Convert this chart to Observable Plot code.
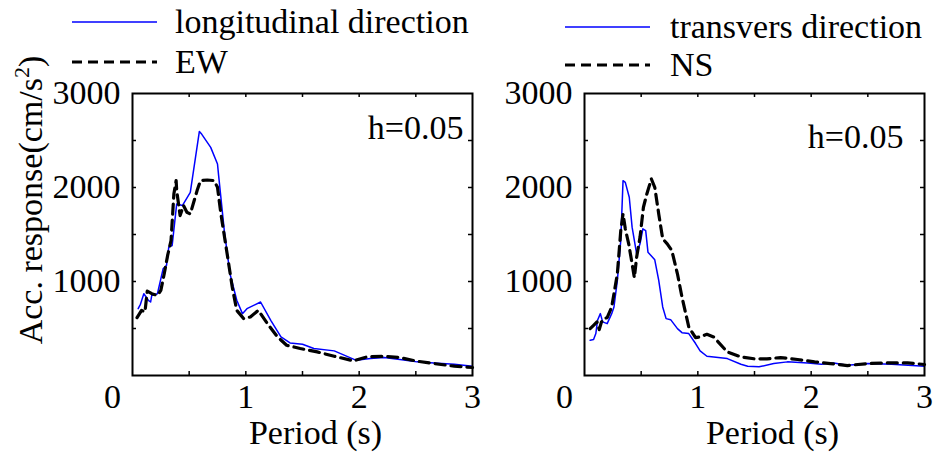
<!DOCTYPE html>
<html><head><meta charset="utf-8">
<script src="https://cdn.jsdelivr.net/npm/d3@7"></script>
<script src="https://cdn.jsdelivr.net/npm/@observablehq/plot@0.6"></script>
<style>
body{margin:0;background:#fff;}
#wrap{position:relative;width:933px;height:452px;font-family:"Liberation Serif",serif;overflow:hidden;}
#wrap > svg{position:absolute;top:0;}
</style></head><body><div id="wrap"></div>
<script>
// ---- tick values ----
const xTickLabels = [1, 2, 3];
const xZeroLabel = [0];
const xTickMarks = [0.5, 1, 1.5, 2, 2.5];
const yTickLabels = [1000, 2000, 3000];
const yTickMarks = [500, 1000, 1500, 2000, 2500];

// ---- left panel: longitudinal direction (solid) and EW (dashed) ----
const longPeriod = [0.05,0.07,0.10,0.14,0.16,0.17,0.22,0.27,0.30,0.32,0.35,0.39,0.44,0.51,0.59,0.61,0.69,0.75,0.76,0.81,0.86,0.92,0.97,1.01,1.13,1.22,1.31,1.39,1.50,1.60,1.78,1.97,2.10,2.22,2.36,2.51,2.66,2.84,3.0];
const longAcc    = [711,757,870,800,782,852,870,1135,1171,1365,1383,1825,1808,1949,2596,2568,2427,2250,2126,1542,1082,800,658,711,782,587,410,347,333,287,262,163,180,191,170,145,134,120,99];
const ewPeriod = [0.04,0.08,0.11,0.13,0.17,0.22,0.25,0.28,0.31,0.34,0.365,0.385,0.39,0.42,0.45,0.48,0.51,0.57,0.60,0.66,0.72,0.75,0.78,0.835,0.88,0.92,0.98,1.04,1.11,1.19,1.28,1.36,1.48,1.63,1.78,1.95,2.07,2.22,2.36,2.51,2.66,2.84,3.0];
const ewAcc    = [615,693,676,898,870,852,905,1082,1277,1436,1931,2073,1967,1701,1808,1737,1719,1967,2073,2080,2073,2002,1719,1295,941,693,605,623,693,552,410,322,287,251,205,156,198,205,191,152,127,99,85];

// ---- right panel: transvers direction (solid) and NS (dashed) ----
const transPeriod = [0.05,0.08,0.10,0.115,0.14,0.16,0.20,0.24,0.26,0.29,0.32,0.34,0.36,0.395,0.42,0.46,0.49,0.515,0.54,0.56,0.62,0.655,0.69,0.72,0.76,0.82,0.86,0.92,0.98,1.02,1.08,1.26,1.38,1.44,1.54,1.67,1.79,1.97,2.09,2.20,2.32,2.50,2.71,3.0];
const transAcc    = [375,382,446,587,658,570,552,658,729,1012,1436,2073,2055,1896,1578,1295,1401,1560,1542,1312,1231,1012,729,605,594,499,456,446,340,262,205,180,120,99,92,127,145,134,120,134,110,127,120,99];
const nsPeriod = [0.05,0.08,0.11,0.13,0.15,0.17,0.20,0.24,0.29,0.32,0.34,0.36,0.39,0.42,0.44,0.46,0.49,0.52,0.55,0.59,0.62,0.655,0.69,0.73,0.77,0.82,0.86,0.92,0.98,1.02,1.08,1.14,1.26,1.38,1.50,1.61,1.73,1.88,2.03,2.17,2.32,2.50,2.68,2.85,3.0];
const nsAcc    = [499,534,570,488,570,605,615,729,1082,1542,1719,1560,1401,1188,1040,1259,1472,1790,1931,2091,2002,1719,1454,1401,1330,1082,835,516,403,410,439,410,251,198,177,177,191,170,145,127,106,127,134,134,117];

const legendLeft = ["longitudinal direction", "EW"];
const legendRight = ["transvers direction", "NS"];
const hLabel = "h=0.05";
const xTitle = "Period (s)";

const H = 452, MT = 93, MB = 77;
const toRows = (P, A) => P.map((p, i) => ({p, a: A[i]}));

function panel({solidP, solidA, dashP, dashA, width, marginLeft, marginRight, hdx, hdy, tdx}) {
  const frameW = width - marginLeft - marginRight;
  const frameH = H - MT - MB;
  return Plot.plot({
    width, height: H, marginTop: MT, marginBottom: MB, marginLeft, marginRight,
    x: {domain: [0, 3], axis: null},
    y: {domain: [0, 3000], axis: null},
    style: {fontFamily: "Liberation Serif", fontSize: "34px", color: "#000", background: "transparent", overflow: "visible"},
    marks: [
      Plot.line(toRows(solidP, solidA), {x: "p", y: "a", stroke: "#0000ff", strokeWidth: 1.5}),
      Plot.line(toRows(dashP, dashA), {x: "p", y: "a", stroke: "#000", strokeWidth: 3.2, strokeDasharray: "10,6"}),
      Plot.frame({stroke: "#000", strokeWidth: 2}),
      Plot.tickX(xTickMarks, {x: d => d, insetTop: frameH - 4, stroke: "#000", strokeWidth: 1.5}),
      Plot.tickX(xTickMarks, {x: d => d, insetBottom: frameH - 4, stroke: "#000", strokeWidth: 1.5}),
      Plot.tickY(yTickMarks, {y: d => d, insetLeft: frameW - 4, stroke: "#000", strokeWidth: 1.5}),
      Plot.tickY(yTickMarks, {y: d => d, insetRight: frameW - 4, stroke: "#000", strokeWidth: 1.5}),
      Plot.text(xTickLabels, {x: d => d, frameAnchor: "bottom", dy: 22, lineAnchor: "middle", text: d => String(d)}),
      Plot.text(xZeroLabel, {x: d => d, frameAnchor: "bottom", dy: 22, dx: -20, lineAnchor: "middle", text: d => String(d)}),
      Plot.text(yTickLabels, {y: d => d, frameAnchor: "left", dx: -12, textAnchor: "end", lineAnchor: "middle", text: d => String(d)}),
      Plot.text([hLabel], {frameAnchor: "top-right", dx: hdx, dy: hdy, textAnchor: "end", lineAnchor: "middle", text: d => d}),
      Plot.text([xTitle], {frameAnchor: "bottom", dx: tdx, dy: 58, lineAnchor: "middle", text: d => d})
    ]
  });
}

const wrap = document.getElementById("wrap");
const left = panel({solidP: longPeriod, solidA: longAcc, dashP: ewPeriod, dashA: ewAcc,
  width: 480, marginLeft: 132, marginRight: 8, hdx: -9, hdy: 35, tdx: 13});
left.style.left = "0px";
wrap.appendChild(left);
const right = panel({solidP: transPeriod, solidA: transAcc, dashP: nsPeriod, dashA: nsAcc,
  width: 453, marginLeft: 104, marginRight: 9, hdx: -21, hdy: 44, tdx: 18});
right.style.left = "480px";
wrap.appendChild(right);

// overlay: legends and y title
const ov = d3.select(wrap).append("svg").attr("width", 933).attr("height", H).style("left", "0px")
  .style("font-family", "Liberation Serif").style("font-size", "34px");
function legend(x1, x2, tx, ys, labels) {
  ov.append("line").attr("x1", x1).attr("x2", x2).attr("y1", ys[0]).attr("y2", ys[0])
    .attr("stroke", "#0000ff").attr("stroke-width", 1.5);
  ov.append("text").attr("x", tx).attr("y", ys[0]).attr("dy", "0.32em").text(labels[0]);
  ov.append("line").attr("x1", x1).attr("x2", x2).attr("y1", ys[1]).attr("y2", ys[1])
    .attr("stroke", "#000").attr("stroke-width", 3.2).attr("stroke-dasharray", "10,6");
  ov.append("text").attr("x", tx).attr("y", ys[1]).attr("dy", "0.32em").text(labels[1]);
}
legend(72, 157, 175, [22, 62], legendLeft);
legend(565, 650, 670, [27, 65], legendRight);

const yt = ov.append("text").attr("transform", "translate(42,200) rotate(-90)").attr("text-anchor", "middle");
yt.append("tspan").text("Acc. response(cm/s");
yt.append("tspan").attr("dy", -13).attr("font-size", 22).text("2");
yt.append("tspan").attr("dy", 13).text(")");
</script></body></html>
